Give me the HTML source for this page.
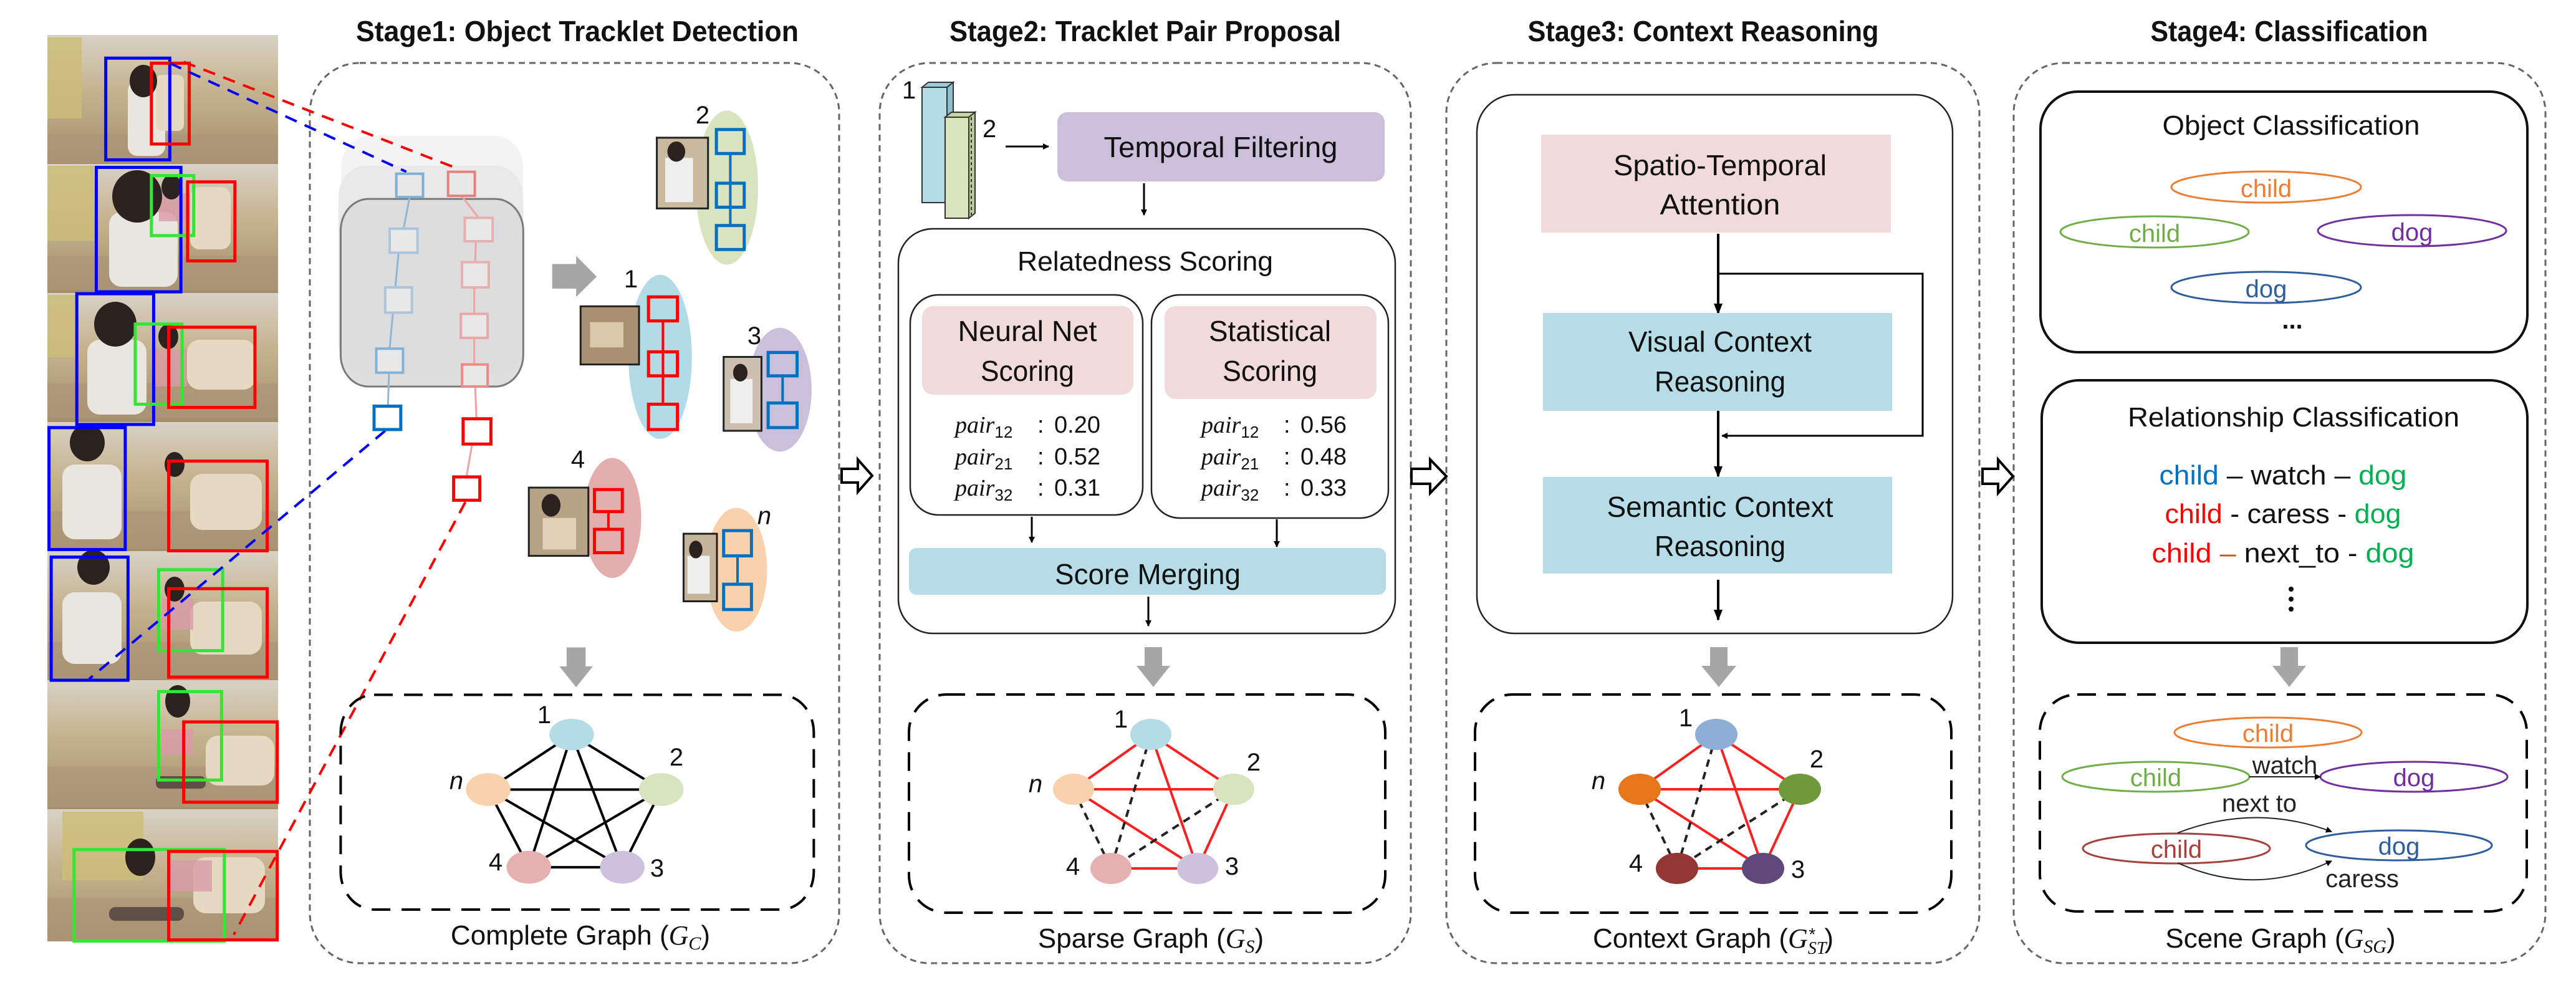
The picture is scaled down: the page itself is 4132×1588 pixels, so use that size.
<!DOCTYPE html>
<html><head><meta charset="utf-8"><style>
html,body{margin:0;padding:0;background:#fff;}
svg{display:block;}
.ns{vector-effect:non-scaling-stroke;}
text{font-family:"Liberation Sans",sans-serif;}
</style></head><body>
<svg width="4132" height="1588" viewBox="0 0 4132 1588" xmlns="http://www.w3.org/2000/svg">
<defs>
<linearGradient id="ph" x1="0" y1="0" x2="0" y2="1">
<stop offset="0" stop-color="#d8d2c6"/><stop offset="0.4" stop-color="#c7b592"/><stop offset="1" stop-color="#a48e6c"/>
</linearGradient>
<marker id="ah" markerWidth="10" markerHeight="10" refX="9" refY="5" orient="auto" markerUnits="userSpaceOnUse" viewBox="0 0 10 10">
<path d="M0,0 L10,5 L0,10 z" fill="#000"/></marker>
<marker id="ah2" markerWidth="18" markerHeight="18" refX="16" refY="9" orient="auto" markerUnits="userSpaceOnUse" viewBox="0 0 18 18">
<path d="M0,2 L18,9 L0,16 z" fill="#000"/></marker>
</defs>

<!-- ===== Photos ===== -->
<g>
<rect x="76" y="56" width="370" height="1454" fill="#b8a586"/>
<g>
<rect x="76" y="56" width="370" height="207" fill="url(#ph)"/>
<rect x="76" y="263" width="370" height="207" fill="url(#ph)"/>
<rect x="76" y="470" width="370" height="207" fill="url(#ph)"/>
<rect x="76" y="677" width="370" height="207" fill="url(#ph)"/>
<rect x="76" y="884" width="370" height="207" fill="url(#ph)"/>
<rect x="76" y="1091" width="370" height="207" fill="url(#ph)"/>
<rect x="76" y="1298" width="370" height="212" fill="url(#ph)"/>
</g>
<g fill="#cdbd78" opacity="0.85">
<rect x="76" y="60" width="55" height="130"/><rect x="76" y="266" width="75" height="120"/><rect x="76" y="473" width="45" height="100"/>
<rect x="100" y="1302" width="130" height="110"/>
</g>
<g fill="#ac9676" opacity="0.7">
<rect x="76" y="215" width="370" height="45"/><rect x="76" y="410" width="370" height="55"/><rect x="76" y="615" width="370" height="55"/>
<rect x="76" y="820" width="370" height="60"/><rect x="76" y="1030" width="370" height="60"/><rect x="76" y="1230" width="370" height="65"/><rect x="76" y="1440" width="370" height="70"/>
</g>
<g fill="#e9e6e0">
<rect x="205" y="130" width="60" height="120" rx="15"/><rect x="175" y="340" width="110" height="120" rx="20"/><rect x="140" y="545" width="95" height="120" rx="20"/>
<rect x="100" y="745" width="95" height="120" rx="20"/><rect x="100" y="950" width="95" height="115" rx="20"/>
</g>
<g fill="#e6d9c2">
<rect x="305" y="760" width="115" height="90" rx="20"/><rect x="305" y="965" width="115" height="85" rx="20"/>
<rect x="330" y="1180" width="110" height="80" rx="20"/><rect x="310" y="1375" width="115" height="90" rx="20"/><rect x="300" y="545" width="110" height="80" rx="20"/>
<rect x="305" y="300" width="65" height="100" rx="15"/><rect x="250" y="120" width="45" height="90" rx="10"/>
</g>
<g fill="#d99aa8" opacity="0.8">
<rect x="255" y="310" width="50" height="45"/><rect x="245" y="560" width="55" height="60"/><rect x="270" y="1380" width="70" height="50"/>
<rect x="260" y="960" width="50" height="50"/><rect x="260" y="1170" width="50" height="40"/>
</g>
<g fill="#2b2220">
<ellipse cx="230" cy="130" rx="22" ry="26"/><ellipse cx="220" cy="315" rx="40" ry="42"/><ellipse cx="185" cy="520" rx="34" ry="36"/>
<ellipse cx="140" cy="710" rx="28" ry="30"/><ellipse cx="150" cy="910" rx="26" ry="28"/><ellipse cx="285" cy="1125" rx="20" ry="26"/><ellipse cx="225" cy="1375" rx="24" ry="30"/>
<ellipse cx="275" cy="300" rx="16" ry="20"/><ellipse cx="270" cy="540" rx="16" ry="20"/><ellipse cx="280" cy="745" rx="16" ry="20"/><ellipse cx="280" cy="945" rx="16" ry="20"/>
</g>
<g fill="#3a3030" opacity="0.7">
<rect x="175" y="1455" width="120" height="22" rx="10"/><rect x="250" y="1245" width="80" height="20" rx="8"/>
</g>
<g transform="scale(0.89286,1.01317)" fill="none" stroke-width="5" class="ns">
<rect x="190" y="92" width="115" height="161" stroke="#0000ff" class="ns"/>
<rect x="272" y="100" width="68" height="128" stroke="#ff0000" class="ns"/>
<rect x="173" y="265" width="152" height="197" stroke="#0000ff" class="ns"/>
<rect x="272" y="278" width="76" height="95" stroke="#33e633" class="ns"/>
<rect x="337" y="288" width="85" height="125" stroke="#ff0000" class="ns"/>
<rect x="138" y="465" width="138" height="207" stroke="#0000ff" class="ns"/>
<rect x="243" y="513" width="84" height="127" stroke="#33e633" class="ns"/>
<rect x="303" y="518" width="155" height="127" stroke="#ff0000" class="ns"/>
<rect x="88" y="677" width="137" height="193" stroke="#0000ff" class="ns"/>
<rect x="303" y="730" width="177" height="142" stroke="#ff0000" class="ns"/>
<rect x="92" y="882" width="138" height="195" stroke="#0000ff" class="ns"/>
<rect x="285" y="902" width="115" height="128" stroke="#33e633" class="ns"/>
<rect x="303" y="932" width="177" height="140" stroke="#ff0000" class="ns"/>
<rect x="285" y="1095" width="113" height="140" stroke="#33e633" class="ns"/>
<rect x="330" y="1143" width="168" height="127" stroke="#ff0000" class="ns"/>
<rect x="133" y="1345" width="270" height="145" stroke="#33e633" class="ns"/>
<rect x="303" y="1348" width="195" height="140" stroke="#ff0000" class="ns"/>
</g>
</g>

<!-- ===== Stage boxes ===== -->
<g fill="none" stroke="#666" stroke-width="3" stroke-dasharray="10,7">
<rect x="497" y="101" width="849" height="1444" rx="80"/>
<rect x="1411" y="101" width="852" height="1444" rx="80"/>
<rect x="2320" y="101" width="855" height="1444" rx="80"/>
<rect x="3230" y="101" width="853" height="1444" rx="80"/>
</g>

<!-- hollow arrows -->
<g fill="#fff" stroke="#000" stroke-width="4">
<polygon points="1350,752 1376,752 1376,737 1399,763 1376,789 1376,774 1350,774"/>
<polygon points="2264,752 2294,752 2294,737 2320,764 2294,791 2294,776 2264,776"/>
<polygon points="3180,752 3205,752 3205,737 3229,764 3205,791 3205,776 3180,776"/>
</g>

<!-- Titles -->
<g font-weight="bold" font-size="46" text-anchor="middle" fill="#111">
<text x="926" y="66" textLength="710" lengthAdjust="spacingAndGlyphs">Stage1: Object Tracklet Detection</text>
<text x="1837" y="66" textLength="628" lengthAdjust="spacingAndGlyphs">Stage2: Tracklet Pair Proposal</text>
<text x="2732" y="66" textLength="563" lengthAdjust="spacingAndGlyphs">Stage3: Context Reasoning</text>
<text x="3672" y="66" textLength="445" lengthAdjust="spacingAndGlyphs">Stage4: Classification</text>
</g>

<!-- ===== Stage1 shapes (zoom1 coords) ===== -->
<g transform="scale(0.89286,1.01317)">
<rect x="613" y="215" width="327" height="345" rx="50" fill="#f3f3f3"/>
<rect x="608" y="262" width="332" height="330" rx="50" fill="#e9e9e9"/>
<rect x="612" y="315" width="328" height="297" rx="50" fill="#dcdcdc" fill-opacity="0.9" stroke="#7a7a7a" stroke-width="3" class="ns"/>
<g stroke-width="4" stroke-dasharray="20,14" fill="none">
<line x1="305" y1="100" x2="730" y2="272" stroke="#0000ff" class="ns"/>
<line x1="330" y1="98" x2="825" y2="268" stroke="#ff0000" class="ns"/>
<line x1="692" y1="682" x2="160" y2="1075" stroke="#0000ff" class="ns"/>
<line x1="836" y1="795" x2="420" y2="1480" stroke="#ff0000" class="ns"/>
</g>
<g fill="none" stroke-width="3">
<polyline points="736,312 725,362 716,400 700,552 697,643" stroke="#8fb8d6" class="ns"/>
<polyline points="829,310 860,345 855,382 852,455 852,577 856,663 838,755" stroke="#eba3a3" class="ns"/>
</g>
<g fill="#e8e8e8" stroke-width="4">
<rect x="712" y="275" width="48" height="37" stroke="#7fb0d4" class="ns"/>
<rect x="700" y="362" width="50" height="38" stroke="#abc6dc" class="ns"/>
<rect x="692" y="455" width="48" height="40" stroke="#abc6dc" class="ns"/>
<rect x="676" y="552" width="48" height="38" stroke="#84b2d6" class="ns"/>
<rect x="805" y="272" width="48" height="38" stroke="#e98080" class="ns"/>
<rect x="835" y="345" width="50" height="37" stroke="#e6b0b0" class="ns"/>
<rect x="830" y="415" width="48" height="40" stroke="#e6b0b0" class="ns"/>
<rect x="828" y="497" width="48" height="38" stroke="#e6a8a8" class="ns"/>
<rect x="830" y="577" width="46" height="35" stroke="#ec8a8a" class="ns"/>
</g>
<g fill="#fff" stroke-width="5">
<rect x="672" y="643" width="48" height="37" stroke="#0070c0" class="ns"/>
<rect x="832" y="663" width="50" height="40" stroke="#ff0000" class="ns"/>
<rect x="815" y="755" width="47" height="37" stroke="#ff0000" class="ns"/>
</g>
<polygon points="992,418 1035,418 1035,405 1072,438 1035,470 1035,457 992,457" fill="#a6a6a6"/>
<polygon points="1018,1025 1052,1025 1052,1055 1065,1055 1035,1088 1005,1055 1018,1055" fill="#a6a6a6"/>
<ellipse cx="1306" cy="297" rx="56" ry="122" fill="#d7e4bd"/>
<ellipse cx="1186" cy="565" rx="57" ry="130" fill="#b3dbe5"/>
<ellipse cx="1401" cy="617" rx="57" ry="98" fill="#cbc0dc"/>
<ellipse cx="1100" cy="820" rx="52" ry="95" fill="#e4aeae"/>
<ellipse cx="1323" cy="902" rx="55" ry="98" fill="#fad1ad"/>
<g stroke="#222" stroke-width="3">
<rect x="1180" y="218" width="92" height="112" fill="#c9b99e" class="ns"/>
<rect x="1043" y="485" width="105" height="92" fill="#a89070" class="ns"/>
<rect x="1300" y="565" width="68" height="117" fill="#cbbfae" class="ns"/>
<rect x="950" y="772" width="107" height="108" fill="#b6a284" class="ns"/>
<rect x="1228" y="845" width="60" height="107" fill="#c4b49c" class="ns"/>
</g>
<g fill="#eee">
<rect x="1195" y="250" width="50" height="70"/><rect x="1060" y="510" width="60" height="40" fill="#d9c8aa"/>
<rect x="1312" y="600" width="40" height="70"/><rect x="975" y="820" width="60" height="50" fill="#e0d0b8"/><rect x="1235" y="880" width="40" height="60"/>
</g>
<g fill="#2b2220"><ellipse cx="1215" cy="240" rx="16" ry="16"/><ellipse cx="1330" cy="590" rx="13" ry="14"/><ellipse cx="990" cy="800" rx="17" ry="18"/><ellipse cx="1250" cy="870" rx="12" ry="14"/></g>
<g stroke-width="4" fill="none">
<line x1="1312" y1="243" x2="1312" y2="357" stroke="#0070c0" class="ns"/>
<line x1="1191" y1="508" x2="1191" y2="640" stroke="#ff0000" class="ns"/>
<line x1="1406" y1="595" x2="1406" y2="638" stroke="#0070c0" class="ns"/>
<line x1="1093" y1="810" x2="1093" y2="838" stroke="#ff0000" class="ns"/>
<line x1="1325" y1="880" x2="1325" y2="925" stroke="#0070c0" class="ns"/>
</g>
<g fill="none" stroke-width="5">
<rect x="1287" y="205" width="50" height="38" stroke="#0070c0" class="ns"/>
<rect x="1287" y="290" width="50" height="38" stroke="#0070c0" class="ns"/>
<rect x="1287" y="357" width="50" height="38" stroke="#0070c0" class="ns"/>
<rect x="1165" y="470" width="52" height="38" stroke="#ff0000" class="ns"/>
<rect x="1165" y="557" width="52" height="38" stroke="#ff0000" class="ns"/>
<rect x="1165" y="640" width="52" height="40" stroke="#ff0000" class="ns"/>
<rect x="1380" y="558" width="52" height="37" stroke="#0070c0" class="ns"/>
<rect x="1380" y="638" width="52" height="39" stroke="#0070c0" class="ns"/>
<rect x="1068" y="775" width="50" height="35" stroke="#ff0000" class="ns"/>
<rect x="1068" y="838" width="50" height="37" stroke="#ff0000" class="ns"/>
<rect x="1300" y="840" width="50" height="40" stroke="#0070c0" class="ns"/>
<rect x="1300" y="925" width="50" height="40" stroke="#0070c0" class="ns"/>
</g>
<rect x="612" y="1100" width="850" height="340" rx="60" fill="none" stroke="#000" stroke-width="4" stroke-dasharray="30,18" class="ns"/>
<g stroke="#000" stroke-width="4" class="ns">
<line x1="1027" y1="1163" x2="1188" y2="1250" class="ns"/><line x1="1027" y1="1163" x2="877" y2="1250" class="ns"/>
<line x1="1027" y1="1163" x2="950" y2="1373" class="ns"/><line x1="1027" y1="1163" x2="1118" y2="1373" class="ns"/>
<line x1="877" y1="1250" x2="1188" y2="1250" class="ns"/><line x1="877" y1="1250" x2="950" y2="1373" class="ns"/>
<line x1="877" y1="1250" x2="1118" y2="1373" class="ns"/><line x1="1188" y1="1250" x2="950" y2="1373" class="ns"/>
<line x1="1188" y1="1250" x2="1118" y2="1373" class="ns"/><line x1="950" y1="1373" x2="1118" y2="1373" class="ns"/>
</g>
<ellipse cx="1027" cy="1163" rx="40" ry="25" fill="#b4dce6"/>
<ellipse cx="1188" cy="1250" rx="40" ry="26" fill="#d7e4bd"/>
<ellipse cx="877" cy="1250" rx="40" ry="26" fill="#fad1ad"/>
<ellipse cx="950" cy="1373" rx="40" ry="26" fill="#e6b0b0"/>
<ellipse cx="1118" cy="1373" rx="40" ry="26" fill="#cdc1dd"/>
</g>
<g font-size="40" fill="#111" text-anchor="middle">
<text x="1127" y="198">2</text><text x="1012" y="461">1</text><text x="1210" y="552">3</text><text x="927" y="750">4</text>
<text x="1226" y="841" font-family="Liberation Serif" font-style="italic">n</text>
<text x="873" y="1160">1</text><text x="1085" y="1228">2</text><text x="732" y="1266" font-family="Liberation Serif" font-style="italic">n</text>
<text x="795" y="1396">4</text><text x="1054" y="1406">3</text>
</g>
<text x="931" y="1515" font-size="44" text-anchor="middle" fill="#111">Complete Graph (<tspan font-family="Liberation Serif" font-style="italic">G</tspan><tspan font-family="Liberation Serif" font-style="italic" font-size="30" dy="8">C</tspan><tspan dy="-8">)</tspan></text>

<!-- ===== Stage2 ===== -->
<g stroke="#333" stroke-width="2">
<polygon points="1479,140 1489,132 1529,132 1519,140" fill="#9fcbd8"/>
<polygon points="1519,140 1529,132 1529,318 1519,325" fill="#8fbfcf"/>
<rect x="1479" y="140" width="40" height="185" fill="#b4dce6"/>
<polygon points="1516,188 1526,180 1564,180 1554,188" fill="#c5d6a5"/>
<polygon points="1554,188 1564,180 1564,342 1554,350" fill="#b9cc95"/>
<rect x="1516" y="188" width="38" height="162" fill="#d8e4bc"/>
</g>
<line x1="1558" y1="188" x2="1558" y2="345" stroke="#333" stroke-width="2" stroke-dasharray="5,4"/>
<g font-size="40" fill="#111"><text x="1447" y="158">1</text><text x="1576" y="220">2</text></g>
<line x1="1613" y1="235" x2="1682" y2="235" stroke="#000" stroke-width="3" marker-end="url(#ah)"/>
<rect x="1696" y="180" width="525" height="111" rx="16" fill="#cbbfdb"/>
<text x="1958" y="252" font-size="46" text-anchor="middle" fill="#111" textLength="375" lengthAdjust="spacingAndGlyphs">Temporal Filtering</text>
<line x1="1835" y1="294" x2="1835" y2="345" stroke="#000" stroke-width="3" marker-end="url(#ah)"/>
<rect x="1441" y="367" width="797" height="649" rx="55" fill="none" stroke="#222" stroke-width="2.5"/>
<text x="1837" y="434" font-size="44" text-anchor="middle" fill="#111" textLength="410" lengthAdjust="spacingAndGlyphs">Relatedness Scoring</text>
<rect x="1460" y="473" width="373" height="353" rx="45" fill="none" stroke="#222" stroke-width="2.5"/>
<rect x="1847" y="473" width="380" height="358" rx="45" fill="none" stroke="#222" stroke-width="2.5"/>
<rect x="1479" y="491" width="339" height="142" rx="18" fill="#f1dada"/>
<rect x="1868" y="491" width="340" height="149" rx="18" fill="#f1dada"/>
<g font-size="46" text-anchor="middle" fill="#111">
<text x="1648" y="547" textLength="223" lengthAdjust="spacingAndGlyphs">Neural Net</text>
<text x="1648" y="611" textLength="150" lengthAdjust="spacingAndGlyphs">Scoring</text>
<text x="2037" y="547" textLength="196" lengthAdjust="spacingAndGlyphs">Statistical</text>
<text x="2037" y="611" textLength="152" lengthAdjust="spacingAndGlyphs">Scoring</text>
</g>
<g font-size="38" fill="#111">
<text x="1532" y="694"><tspan font-family="Liberation Serif" font-style="italic">pair</tspan><tspan font-size="26" dy="8">12</tspan></text>
<text x="1532" y="745"><tspan font-family="Liberation Serif" font-style="italic">pair</tspan><tspan font-size="26" dy="8">21</tspan></text>
<text x="1532" y="795"><tspan font-family="Liberation Serif" font-style="italic">pair</tspan><tspan font-size="26" dy="8">32</tspan></text>
<text x="1664" y="694">:</text><text x="1664" y="745">:</text><text x="1664" y="795">:</text>
<text x="1691" y="694">0.20</text><text x="1691" y="745">0.52</text><text x="1691" y="795">0.31</text>
<text x="1927" y="694"><tspan font-family="Liberation Serif" font-style="italic">pair</tspan><tspan font-size="26" dy="8">12</tspan></text>
<text x="1927" y="745"><tspan font-family="Liberation Serif" font-style="italic">pair</tspan><tspan font-size="26" dy="8">21</tspan></text>
<text x="1927" y="795"><tspan font-family="Liberation Serif" font-style="italic">pair</tspan><tspan font-size="26" dy="8">32</tspan></text>
<text x="2059" y="694">:</text><text x="2059" y="745">:</text><text x="2059" y="795">:</text>
<text x="2086" y="694">0.56</text><text x="2086" y="745">0.48</text><text x="2086" y="795">0.33</text>
</g>
<line x1="1655" y1="829" x2="1655" y2="870" stroke="#000" stroke-width="3" marker-end="url(#ah)"/>
<line x1="2048" y1="833" x2="2048" y2="877" stroke="#000" stroke-width="3" marker-end="url(#ah)"/>
<rect x="1458" y="879" width="765" height="75" rx="12" fill="#b6dde7"/>
<text x="1841" y="937" font-size="46" text-anchor="middle" fill="#111" textLength="298" lengthAdjust="spacingAndGlyphs">Score Merging</text>
<line x1="1842" y1="957" x2="1842" y2="1004" stroke="#000" stroke-width="3" marker-end="url(#ah)"/>
<polygon points="1836,1038 1864,1038 1864,1068 1877,1068 1850,1102 1823,1068 1836,1068" fill="#a6a6a6"/>
<rect x="1458" y="1114" width="764" height="350" rx="60" fill="none" stroke="#000" stroke-width="4" stroke-dasharray="30,18"/>
<g stroke-width="4">
<g stroke="#ff2020">
<line x1="1846" y1="1178" x2="1722" y2="1266"/><line x1="1846" y1="1178" x2="1979" y2="1266"/>
<line x1="1722" y1="1266" x2="1979" y2="1266"/><line x1="1846" y1="1178" x2="1921" y2="1393"/>
<line x1="1722" y1="1266" x2="1921" y2="1393"/><line x1="1979" y1="1266" x2="1921" y2="1393"/>
<line x1="1782" y1="1393" x2="1921" y2="1393"/>
</g>
<g stroke="#222" stroke-dasharray="12,9">
<line x1="1722" y1="1266" x2="1782" y2="1393"/><line x1="1846" y1="1178" x2="1782" y2="1393"/><line x1="1979" y1="1266" x2="1782" y2="1393"/>
</g>
</g>
<ellipse cx="1846" cy="1178" rx="33" ry="25" fill="#b4dce6"/>
<ellipse cx="1979" cy="1266" rx="33" ry="25" fill="#d7e4bd"/>
<ellipse cx="1722" cy="1266" rx="33" ry="25" fill="#fad1ad"/>
<ellipse cx="1782" cy="1393" rx="33" ry="25" fill="#e6b0b0"/>
<ellipse cx="1921" cy="1393" rx="33" ry="25" fill="#cdc1dd"/>
<g font-size="40" fill="#111" text-anchor="middle">
<text x="1798" y="1167">1</text><text x="2011" y="1236">2</text><text x="1661" y="1271" font-family="Liberation Serif" font-style="italic">n</text>
<text x="1721" y="1403">4</text><text x="1976" y="1403">3</text>
</g>
<text x="1846" y="1520" font-size="44" text-anchor="middle" fill="#111">Sparse Graph (<tspan font-family="Liberation Serif" font-style="italic">G</tspan><tspan font-family="Liberation Serif" font-style="italic" font-size="30" dy="8">S</tspan><tspan dy="-8">)</tspan></text>

<!-- ===== Stage3 ===== -->
<rect x="2369" y="152" width="763" height="864" rx="60" fill="none" stroke="#222" stroke-width="2.5"/>
<rect x="2472" y="216" width="561" height="157" fill="#f1dada"/>
<g font-size="46" text-anchor="middle" fill="#111">
<text x="2759" y="281" textLength="342" lengthAdjust="spacingAndGlyphs">Spatio-Temporal</text>
<text x="2759" y="344" textLength="193" lengthAdjust="spacingAndGlyphs">Attention</text>
</g>
<line x1="2756" y1="375" x2="2756" y2="503" stroke="#000" stroke-width="4" marker-end="url(#ah2)"/>
<polyline points="2756,439 3084,439 3084,699 2762,699" fill="none" stroke="#000" stroke-width="3" marker-end="url(#ah)"/>
<rect x="2475" y="502" width="560" height="157" fill="#b6dde7"/>
<g font-size="46" text-anchor="middle" fill="#111">
<text x="2759" y="564" textLength="294" lengthAdjust="spacingAndGlyphs">Visual Context</text>
<text x="2759" y="628" textLength="210" lengthAdjust="spacingAndGlyphs">Reasoning</text>
</g>
<line x1="2756" y1="659" x2="2756" y2="764" stroke="#000" stroke-width="4" marker-end="url(#ah2)"/>
<rect x="2475" y="765" width="560" height="155" fill="#b6dde7"/>
<g font-size="46" text-anchor="middle" fill="#111">
<text x="2759" y="829" textLength="363" lengthAdjust="spacingAndGlyphs">Semantic Context</text>
<text x="2759" y="892" textLength="210" lengthAdjust="spacingAndGlyphs">Reasoning</text>
</g>
<line x1="2756" y1="930" x2="2756" y2="994" stroke="#000" stroke-width="4" marker-end="url(#ah2)"/>
<polygon points="2743,1038 2771,1038 2771,1068 2785,1068 2757,1102 2729,1068 2743,1068" fill="#a6a6a6"/>
<rect x="2366" y="1114" width="764" height="350" rx="60" fill="none" stroke="#000" stroke-width="4" stroke-dasharray="30,18"/>
<g stroke-width="4">
<g stroke="#ff2020">
<line x1="2753" y1="1178" x2="2630" y2="1266"/><line x1="2753" y1="1178" x2="2887" y2="1266"/>
<line x1="2630" y1="1266" x2="2887" y2="1266"/><line x1="2753" y1="1178" x2="2828" y2="1393"/>
<line x1="2630" y1="1266" x2="2828" y2="1393"/><line x1="2887" y1="1266" x2="2828" y2="1393"/>
<line x1="2690" y1="1393" x2="2828" y2="1393"/>
</g>
<g stroke="#222" stroke-dasharray="12,9">
<line x1="2630" y1="1266" x2="2690" y2="1393"/><line x1="2753" y1="1178" x2="2690" y2="1393"/><line x1="2887" y1="1266" x2="2690" y2="1393"/>
</g>
</g>
<ellipse cx="2753" cy="1178" rx="34" ry="25" fill="#8eaed6"/>
<ellipse cx="2887" cy="1266" rx="34" ry="25" fill="#6f9a3a"/>
<ellipse cx="2630" cy="1266" rx="34" ry="25" fill="#e67619"/>
<ellipse cx="2690" cy="1393" rx="34" ry="25" fill="#943634"/>
<ellipse cx="2828" cy="1393" rx="34" ry="25" fill="#5f497a"/>
<g font-size="40" fill="#111" text-anchor="middle">
<text x="2704" y="1165">1</text><text x="2914" y="1231">2</text><text x="2564" y="1266" font-family="Liberation Serif" font-style="italic">n</text>
<text x="2624" y="1398">4</text><text x="2884" y="1408">3</text>
</g>
<text x="2748" y="1520" font-size="44" text-anchor="middle" fill="#111">Context Graph (<tspan font-family="Liberation Serif" font-style="italic">G</tspan><tspan font-family="Liberation Serif" font-style="italic" font-size="28" dy="10">ST</tspan><tspan font-size="28" dx="-28" dy="-22">*</tspan><tspan dx="14" dy="12">)</tspan></text>

<!-- ===== Stage4 ===== -->
<rect x="3273" y="147" width="781" height="418" rx="60" fill="none" stroke="#111" stroke-width="4"/>
<text x="3675" y="216" font-size="44" text-anchor="middle" fill="#111" textLength="413" lengthAdjust="spacingAndGlyphs">Object Classification</text>
<g fill="none" stroke-width="3">
<ellipse cx="3635" cy="300" rx="152" ry="25" stroke="#ed7d31"/>
<ellipse cx="3456" cy="372" rx="151" ry="25" stroke="#70ad47"/>
<ellipse cx="3869" cy="370" rx="151" ry="25" stroke="#7030a0"/>
<ellipse cx="3635" cy="461" rx="152" ry="25" stroke="#2e5e9e"/>
</g>
<g font-size="40" text-anchor="middle">
<text x="3635" y="316" fill="#ed7d31">child</text>
<text x="3456" y="388" fill="#70ad47">child</text>
<text x="3869" y="386" fill="#7030a0">dog</text>
<text x="3635" y="477" fill="#2e5e9e">dog</text>
<text x="3677" y="527" fill="#111" font-weight="bold">...</text>
</g>
<rect x="3275" y="610" width="779" height="421" rx="60" fill="none" stroke="#111" stroke-width="4"/>
<text x="3679" y="684" font-size="44" text-anchor="middle" fill="#111" textLength="532" lengthAdjust="spacingAndGlyphs">Relationship Classification</text>
<g font-size="44" text-anchor="middle" fill="#111">
<text x="3662" y="777" textLength="397" lengthAdjust="spacingAndGlyphs"><tspan fill="#0070c0">child</tspan> – watch – <tspan fill="#00b050">dog</tspan></text>
<text x="3662" y="839" textLength="379" lengthAdjust="spacingAndGlyphs"><tspan fill="#ff0000">child</tspan> - caress - <tspan fill="#00b050">dog</tspan></text>
<text x="3662" y="902" textLength="421" lengthAdjust="spacingAndGlyphs"><tspan fill="#ff0000">child</tspan> <tspan fill="#c55a11">–</tspan> next_to - <tspan fill="#00b050">dog</tspan></text>
</g>
<g fill="#111"><circle cx="3675" cy="945" r="4"/><circle cx="3675" cy="961" r="4"/><circle cx="3675" cy="977" r="4"/></g>
<polygon points="3658,1038 3686,1038 3686,1068 3699,1068 3672,1102 3645,1068 3658,1068" fill="#a6a6a6"/>
<rect x="3272" y="1114" width="781" height="348" rx="60" fill="none" stroke="#000" stroke-width="4" stroke-dasharray="30,18"/>
<g fill="none" stroke-width="3">
<ellipse cx="3638" cy="1175" rx="150" ry="24" stroke="#ed7d31"/>
<ellipse cx="3458" cy="1246" rx="150" ry="24" stroke="#70ad47"/>
<ellipse cx="3872" cy="1246" rx="150" ry="24" stroke="#7030a0"/>
<ellipse cx="3491" cy="1361" rx="150" ry="24" stroke="#a5403c"/>
<ellipse cx="3848" cy="1356" rx="149" ry="24" stroke="#2e5e9e"/>
</g>
<line x1="3608" y1="1246" x2="3722" y2="1246" stroke="#222" stroke-width="2" marker-end="url(#ah)"/>
<path d="M3493,1336 Q3617,1288 3740,1334" fill="none" stroke="#222" stroke-width="2" marker-end="url(#ah)"/>
<path d="M3493,1384 Q3617,1440 3740,1381" fill="none" stroke="#222" stroke-width="2" marker-end="url(#ah)"/>
<g font-size="40" text-anchor="middle">
<text x="3638" y="1190" fill="#ed7d31">child</text>
<text x="3458" y="1261" fill="#70ad47">child</text>
<text x="3872" y="1261" fill="#7030a0">dog</text>
<text x="3491" y="1376" fill="#a5403c">child</text>
<text x="3848" y="1371" fill="#2e5e9e">dog</text>
<text x="3665" y="1241" fill="#222">watch</text>
<text x="3624" y="1302" fill="#222">next to</text>
<text x="3789" y="1423" fill="#222">caress</text>
</g>
<text x="3658" y="1520" font-size="44" text-anchor="middle" fill="#111">Scene Graph (<tspan font-family="Liberation Serif" font-style="italic">G</tspan><tspan font-family="Liberation Serif" font-style="italic" font-size="30" dy="8">SG</tspan><tspan dy="-8">)</tspan></text>
</svg>
</body></html>
